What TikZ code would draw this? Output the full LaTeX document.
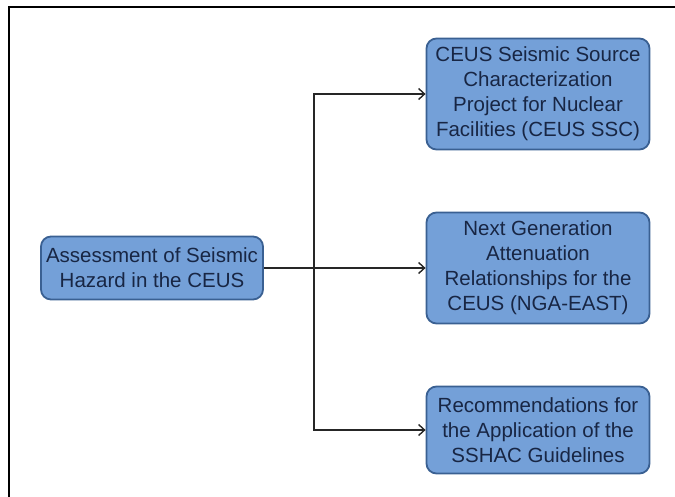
\documentclass[tikz,border=0pt]{standalone}
\usepackage{fontspec}
\setsansfont{Liberation Sans}
\usetikzlibrary{arrows.meta}
\definecolor{boxfill}{RGB}{116,160,216}
\definecolor{boxline}{RGB}{58,96,146}
\definecolor{boxtext}{RGB}{24,38,68}
\begin{document}
\begin{tikzpicture}[
  x=1pt,y=-1pt,
  box/.style={draw=boxline,line width=1.8pt,fill=boxfill,rounded corners=10pt,
    align=center,inner sep=2pt,minimum width=223pt,text=boxtext,
    font=\sffamily\fontsize{20.5}{25}\selectfont},
  link/.style={draw=black!85,line width=1.4pt,-{Straight Barb[length=6pt,width=11pt,line width=1.4pt]}},
]
\useasboundingbox (0,0) rectangle (675,497);
\draw[black,line width=1.5pt] (9,498) -- (9,7) -- (676,7);
\node[box,minimum width=222pt,minimum height=63pt] (hazard) at (152,268)
  {Assessment of Seismic\\Hazard in the CEUS};
\node[box,minimum height=111pt] (ssc) at (538,94)
  {CEUS Seismic Source\\Characterization\\Project for Nuclear\\Facilities (CEUS SSC)};
\node[box,minimum height=111pt] (nga) at (538,268)
  {Next Generation\\Attenuation\\Relationships for the\\CEUS (NGA-EAST)};
\node[box,minimum height=87pt] (sshac) at (538,430)
  {Recommendations for\\the Application of the\\SSHAC Guidelines};
\coordinate (split) at (314,268);
\draw[link] (hazard.east) -- (nga.west);
\draw[link] (split) |- (ssc.west);
\draw[link] (split) |- (sshac.west);
\end{tikzpicture}
\end{document}
